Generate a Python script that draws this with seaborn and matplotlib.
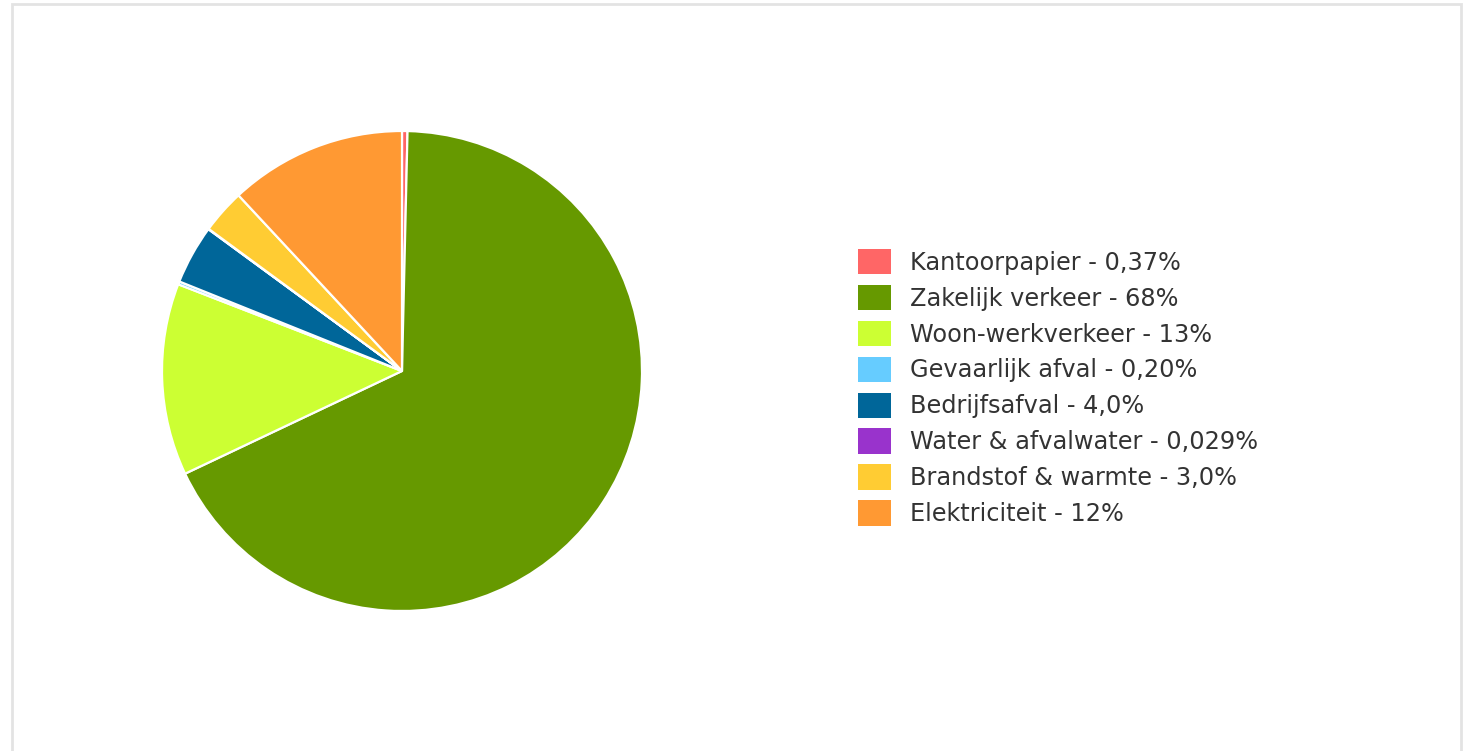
import matplotlib
matplotlib.use("Agg")
import matplotlib.pyplot as plt
import matplotlib.patches as mpatches
import seaborn as sns

# =========================================================
# DATA
# =========================================================
categories = [
    "Kantoorpapier",
    "Zakelijk verkeer",
    "Woon-werkverkeer",
    "Gevaarlijk afval",
    "Bedrijfsafval",
    "Water & afvalwater",
    "Brandstof & warmte",
    "Elektriciteit",
]
shares = [0.37, 68, 13, 0.20, 4.0, 0.029, 3.0, 12]
share_labels = ["0,37%", "68%", "13%", "0,20%", "4,0%", "0,029%", "3,0%", "12%"]
colors = ["#FF6666", "#669900", "#CCFF33", "#66CCFF",
          "#006699", "#9933CC", "#FFCC33", "#FF9933"]

# =========================================================
# STYLE
# =========================================================
sns.set_theme(style="white")
plt.rcParams["font.family"] = ["DejaVu Sans"]

W, H = 1469, 751
fig = plt.figure(figsize=(W / 100, H / 100), dpi=100)
fig.patch.set_facecolor("white")

# light grey card border
fig.patches.append(mpatches.Rectangle(
    (12 / W, -0.05), (1461 - 12) / W, (751 - 4) / H + 0.05,
    transform=fig.transFigure, fill=False, edgecolor="#e3e3e3", linewidth=2.0
))

# =========================================================
# PIE
# =========================================================
cx, cy, r = 402, 371, 240
ax = fig.add_axes([(cx - r) / W, (H - cy - r) / H, 2 * r / W, 2 * r / H])
wedges, _ = ax.pie(
    shares,
    colors=colors,
    startangle=90,
    counterclock=False,
    radius=1,
    wedgeprops=dict(edgecolor="white", linewidth=1.6),
)
ax.set_xlim(-1, 1)
ax.set_ylim(-1, 1)
ax.set_aspect("equal")
ax.axis("off")

# =========================================================
# LEGEND
# =========================================================
labels = [f"{c} - {p}" for c, p in zip(categories, share_labels)]
handles = [mpatches.Patch(facecolor=c, edgecolor="none") for c in colors]
fig.legend(
    handles, labels,
    loc="upper left",
    bbox_to_anchor=(858 / W, (H - 249) / H),
    frameon=False,
    fontsize=17.3,
    labelcolor="#333333",
    handlelength=1.37,
    handleheight=1.25,
    handletextpad=0.8,
    labelspacing=0.42,
    borderpad=0,
    borderaxespad=0,
)

plt.savefig("out.png", dpi=100)
